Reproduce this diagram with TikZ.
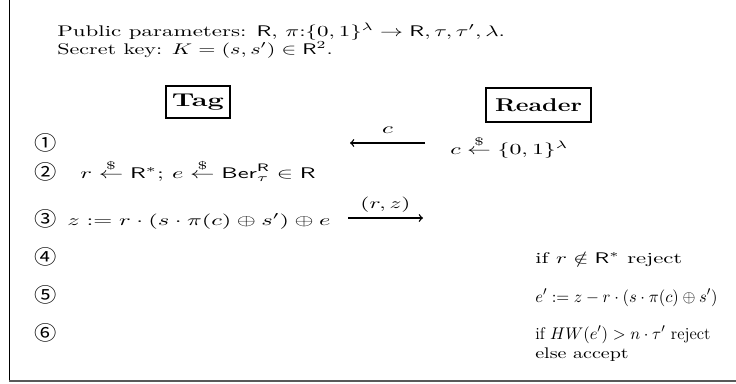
\documentclass[tikz,border=0pt]{standalone}
\usepackage{amsmath,amssymb}
\usepackage{graphicx}
\usepackage{fontspec}
\newfontfamily\circfont{Noto Sans CJK SC}
\newcommand\fitto[2]{\resizebox{#1}{\height}{#2}}
\begin{document}
\begin{tikzpicture}[x=0.65pt,y=-0.65pt,
  txt/.style={inner sep=0pt,anchor=base west},
  num/.style={inner sep=0pt,anchor=center,font=\circfont\fontsize{13}{15}\selectfont},
  role/.style={draw,line width=0.9pt,inner sep=0pt,anchor=center},
  msg/.style={line width=0.9pt,-to},
  frameline/.style={line width=0.6pt}]
\useasboundingbox (0,0) rectangle (736,383);
% frame
\coordinate (ftop) at (9,0);
\coordinate (fcorner) at (9,381);
\coordinate (fright) at (736,381);
\draw[frameline] (ftop) -- (fcorner);
\draw[line width=1.2pt,black!65] (fcorner) -- (fright);
% header
\node[txt] (pub) at (57,36) {\fitto{291pt}{Public parameters: $\mathsf{R}$, $\pi$:$\{0,1\}^\lambda \rightarrow \mathsf{R}, \tau, \tau', \lambda$.}};
\node[txt] (key) at (57,54) {\fitto{179pt}{Secret key: $K=(s,s')\in\mathsf{R}^2$.}};
% roles
\node[role,minimum width=41.6pt,minimum height=20.8pt] (tag) at (198,102) {\fitto{33.8pt}{\large\bfseries Tag}};
\node[role,minimum width=68.3pt,minimum height=22.1pt] (reader) at (538.5,105) {\fitto{56.5pt}{\large\bfseries Reader}};
% step numbers
\node[num] (n1) at (46,143) {\fitto{14.5pt}{①}};
\node[num] (n2) at (46,172) {\fitto{14.5pt}{②}};
\node[num] (n3) at (46,219) {\fitto{14.5pt}{③}};
\node[num] (n4) at (46,257) {\fitto{14.5pt}{④}};
\node[num] (n5) at (46,295) {\fitto{14.5pt}{⑤}};
\node[num] (n6) at (46,333) {\fitto{14.5pt}{⑥}};
% tag side
\node[txt] (t2) at (80,178) {\fitto{153pt}{$r \stackrel{\$}{\leftarrow} \mathsf{R}^*$; $e \stackrel{\$}{\leftarrow} \mathsf{Ber}_\tau^{\mathsf{R}} \in \mathsf{R}$}};
\node[txt] (t3) at (67,225) {\fitto{171pt}{$z := r\cdot(s\cdot\pi(c)\oplus s')\oplus e$}};
% reader side
\node[txt] (r1) at (450,154) {\fitto{76.7pt}{$c \stackrel{\$}{\leftarrow} \{0,1\}^\lambda$}};
\node[txt] (r4) at (535,263) {\fitto{95.5pt}{if $r\notin\mathsf{R}^*$ reject}};
\node[txt] (r5) at (535,302) {\fitto{118.5pt}{\fontsize{11}{13}\selectfont $e' := z - r\cdot(s\cdot\pi(c)\oplus s')$}};
\node[txt] (r6) at (535,339) {\fitto{113.8pt}{\fontsize{11}{13}\selectfont if $HW(e') > n\cdot\tau'$ reject}};
\node[txt] (r7) at (535,358) {\fitto{60.7pt}{else accept}};
% messages
\coordinate (m1s) at (425,143);
\coordinate (m1e) at (350,143);
\coordinate (m2s) at (348,218);
\coordinate (m2e) at (423,218);
\draw[msg] (m1s) -- node[above=6pt,inner sep=0pt] (lc) {\fitto{7pt}{$c$}} (m1e);
\draw[msg] (m2s) -- node[above=3.5pt,inner sep=0pt] (lrz) {\fitto{32.5pt}{$(r,z)$}} (m2e);
\end{tikzpicture}
\end{document}
